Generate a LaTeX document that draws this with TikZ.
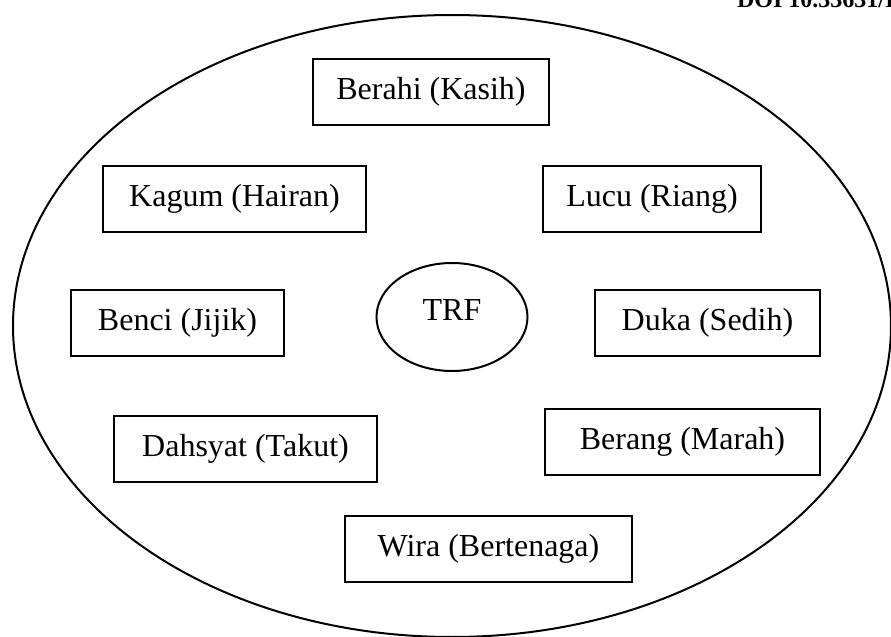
\documentclass[tikz,border=0pt]{standalone}
\usepackage{fontspec}
\setmainfont{Liberation Serif}
\usepackage{tikz}
\usetikzlibrary{positioning,shapes}

\begin{document}
\begin{tikzpicture}[x=0.5pt, y=-0.5pt,
  box/.style={draw, line width=1pt, inner sep=0pt, minimum height=33pt,
    font=\fontsize{16}{19}\selectfont},
  trfnode/.style={draw, ellipse, line width=1pt, inner sep=0pt,
    minimum width=75.5pt, minimum height=54pt}]
  \useasboundingbox (0,0) rectangle (891,637);
  \draw[line width=1pt] (452,326) ellipse [x radius=439, y radius=311];
  \node[anchor=base west, font=\bfseries\fontsize{12}{14}\selectfont] (doi) at (730,7) {DOI 10.33631/I};
  \node[trfnode, label={[font=\fontsize{16}{19}\selectfont, yshift=3.5pt]center:TRF}] (trf) at (452,317) {};
  \node[box, minimum width=118pt] (berahi) at (431,92) {Berahi (Kasih)};
  \node[box, minimum width=131.5pt] (kagum) at (234.5,199) {Kagum (Hairan)};
  \node[box, minimum width=109pt] (lucu) at (652,199) {Lucu (Riang)};
  \node[box, minimum width=106.5pt] (benci) at (177.5,323) {Benci (Jijik)};
  \node[box, minimum width=112.5pt] (duka) at (707.5,323) {Duka (Sedih)};
  \node[box, minimum width=131.5pt] (dahsyat) at (245.5,449) {Dahsyat (Takut)};
  \node[box, minimum width=137.5pt] (berang) at (682.5,442) {Berang (Marah)};
  \node[box, minimum width=143.5pt] (wira) at (488.5,548.5) {Wira (Bertenaga)};
\end{tikzpicture}
\end{document}
